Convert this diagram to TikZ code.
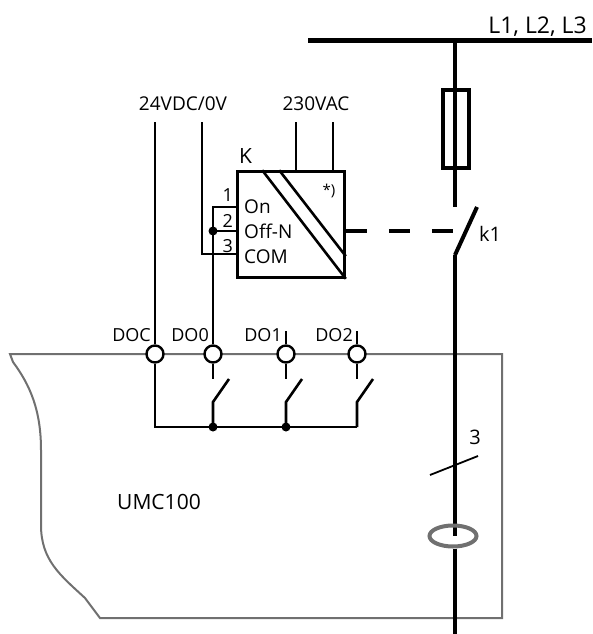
\documentclass[tikz,border=0pt]{standalone}
\usepackage{fontspec}
\setmainfont{Open Sans}
\usetikzlibrary{positioning,calc,shapes.geometric}
\definecolor{frame}{RGB}{112,112,112}

\begin{document}
\begin{tikzpicture}[
    x=1pt, y=-1pt,
    wire/.style={line width=2.6pt},
    power/.style={line width=4.8pt},
    term/.style={draw, circle, line width=2.4pt, fill=white, minimum size=17pt, inner sep=0pt},
    jdot/.style={circle, fill=black, minimum size=9pt, inner sep=0pt},
    lbl/.style={font=\fontsize{18}{20}\selectfont, inner sep=0pt}
]
\useasboundingbox (0,0) rectangle (592,634);

% UMC100 housing
\draw[frame, line width=2pt] (10,354) -- (502,354) -- (502,618) -- (100,618) -- (85,598)
    .. controls (60,575) and (41,560) .. (41,525) -- (41,450)
    .. controls (41,410) and (30,385) .. (13,362) -- cycle;
\node[lbl, font=\fontsize{21}{23}\selectfont] (umc) at (159,502) {UMC100};

% Supply bus
\coordinate (busL) at (308,41);
\coordinate (busR) at (592,41);
\draw[line width=5pt] (busL) -- (busR);
\node[lbl, font=\fontsize{23}{25}\selectfont, anchor=base east] (phases) at (587,34) {L1, L2, L3};

% Fuse and main contact k1
\coordinate (tap) at (455,41);
\coordinate (k1top) at (455,207);
\coordinate (k1bot) at (455,255);
\coordinate (k1tip) at (477,207);
\draw[power] (tap) -- (k1top);
\node[draw, line width=4pt, minimum width=26pt, minimum height=78pt, inner sep=0pt] (fuse) at (456,129) {};
\draw[line width=4pt] (k1bot) -- (k1tip);
\node[lbl, font=\fontsize{20}{22}\selectfont, anchor=west] (k1) at (479,234) {k1};

% Motor feeder with current transformer
\coordinate (ct) at (455,536);
\coordinate (bottom) at (455,634);
\draw[power] (k1bot) -- (ct);
\node[draw=frame, line width=4pt, ellipse, minimum width=47pt, minimum height=21pt, inner sep=0pt] (cts) at (453,536) {};
\draw[power] (cts.south -| ct) -- (bottom);

% Three-phase mark
\coordinate (m1) at (430,475);
\coordinate (m2) at (478,456);
\draw[line width=1.8pt] (m1) -- (m2);
\node[lbl, font=\fontsize{20}{22}\selectfont] (three) at (475,437) {3};

% Relay K
\node[draw, line width=2.6pt, minimum width=107pt, minimum height=106pt, inner sep=0pt] (K) at (291,224.5) {};
\node[lbl, font=\fontsize{21}{23}\selectfont, anchor=base west] (Klbl) at (239,163) {K};
\draw[wire] ($(K.north west)+(26,0)$) -- (K.south east);
\draw[wire] ($(K.north west)+(43,0)$) -- ($(K.north east)+(0,86)$);
\node[lbl, font=\fontsize{15}{17}\selectfont] (note) at (329,191) {*)};

\coordinate (t1) at (238,207);
\coordinate (t2) at (238,231);
\coordinate (t3) at (238,254);
\node[lbl, anchor=base east] (n1) at (233,201) {1};
\node[lbl, anchor=base east] (n2) at (233,227) {2};
\node[lbl, anchor=base east] (n3) at (233,252) {3};
\node[lbl, font=\fontsize{19}{21}\selectfont, anchor=base west] (on) at (244,213) {On};
\node[lbl, font=\fontsize{19}{21}\selectfont, anchor=base west] (off) at (244,238) {Off-N};
\node[lbl, font=\fontsize{19}{21}\selectfont, anchor=base west] (com) at (244,263) {COM};

% Supplies
\coordinate (dcp) at (155,122);
\coordinate (dcn) at (202,122);
\coordinate (ac1) at (296,122);
\coordinate (ac2) at (333,122);
\node[lbl, font=\fontsize{19}{21}\selectfont, anchor=base] (dc) at (183,110) {24VDC/0V};
\node[lbl, font=\fontsize{19}{21}\selectfont, anchor=base] (ac) at (316,110) {230VAC};
\draw[wire] (ac1) -- (ac1 |- K.north);
\draw[wire] (ac2) -- (ac2 |- K.north);

% Output terminals
\node[term] (DOC) at (155,354) {};
\node[term] (DO0) at (213,354) {};
\node[term] (DO1) at (286,354) {};
\node[term] (DO2) at (357,354) {};
\node[lbl, anchor=base east] at (151,341) {DOC};
\node[lbl, anchor=base east] at (209,341) {DO0};
\node[lbl, anchor=base east] at (282,341) {DO1};
\node[lbl, anchor=base east] at (353,341) {DO2};

% Control wiring
\coordinate (jn) at (213,231);
\draw[wire] (dcp) -- (DOC.north);
\draw[wire] (dcn) |- (t3);
\draw[wire] (t1) -| (DO0.north);
\draw[wire] (jn) -- (t2);
\node[jdot] (jdot) at (jn) {};
\draw[wire] (DO1.north) -- ++(0,-13);
\draw[wire] (DO2.north) -- ++(0,-13);

% Output contacts
\coordinate (rail) at (357,427);
\draw[wire] (DOC.south) |- (rail);
\foreach \t in {DO0,DO1,DO2} {
    \draw[wire] (\t.south) -- ++(0,15);
    \draw[wire] (\t |- rail) -- ++(0,-25) -- ++(16,-23);
}
\node[jdot] at (DO0 |- rail) {};
\node[jdot] at (DO1 |- rail) {};

% Mechanical link K -> k1
\coordinate (lnk) at (453,231);
\draw[line width=4.5pt, dash pattern=on 21pt off 22pt] (K.east |- lnk) -- (lnk);

\end{tikzpicture}
\end{document}
